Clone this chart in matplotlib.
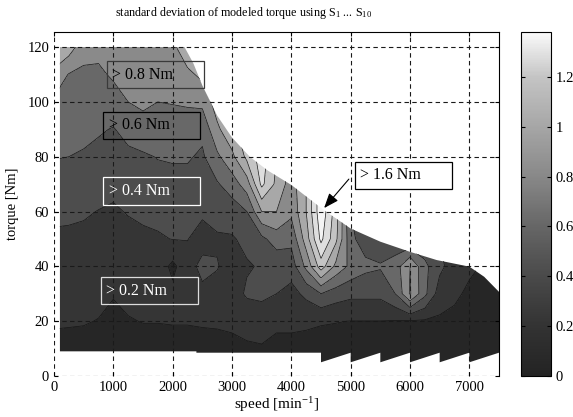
import numpy as np
import matplotlib
matplotlib.use("Agg")
import matplotlib.pyplot as plt
from matplotlib.colors import LinearSegmentedColormap, Normalize
from matplotlib.patches import Polygon, Rectangle
import matplotlib.cm as cm

plt.rcParams["font.family"] = ["Liberation Serif", "DejaVu Serif"]
plt.rcParams["mathtext.fontset"] = "custom"
plt.rcParams["mathtext.rm"] = "Liberation Serif"
plt.rcParams["mathtext.it"] = "Liberation Serif:italic"

# measurement grid (speed in min^-1, torque in Nm)
speed = list(range(0, 7501, 250))
torque = [5, 10, 20, 30, 40, 50, 60, 70, 80, 90, 100, 110, 120]

# standard deviation [Nm], one row per torque value
std_rows = [
    [.13, .13, .13, .12, .10, .11, .12, .12, .12, .12, .13, .13, .14, .16, .17, .14, .14, .13, .13, .12, .12, .12, .12, .11, .11, .11, .11, .10, .10, .10, .10],
    [.15, .15, .15, .14, .12, .13, .14, .14, .14, .14, .15, .15, .16, .18, .19, .16, .16, .15, .15, .14, .14, .14, .14, .13, .13, .13, .13, .12, .12, .12, .12],
    [.22, .215, .21, .195, .16, .19, .205, .205, .21, .21, .215, .22, .23, .25, .25, .23, .23, .225, .21, .205, .198, .198, .198, .19, .185, .175, .17, .172, .17, .15, .14],
    [.18, .27, .26, .24, .21, .24, .26, .26, .25, .27, .36, .34, .30, .43, .46, .40, .33, .45, .60, .50, .45, .45, .45, .60, 1.02, .65, .30, .22, .18, .15, .14],
    [.32, .32, .31, .29, .26, .30, .31, .32, .15, .33, .45, .41, .33, .38, .42, .45, .50, .85, 1.3, .95, .75, .65, .62, .70, 1.0, .65, .45, .30, .22, .19, .17],
    [.37, .37, .36, .35, .32, .35, .37, .38, .405, .405, .33, .38, .38, .45, .55, .70, .65, 1.1, 1.65, 1.25, .65, .50, .45, .45, .40, .45, .40, .35, .30, .25, .20],
    [.44, .43, .42, .395, .38, .41, .43, .45, .47, .47, .43, .46, .50, .60, 1.0, 1.0, .85, 1.2, 1.75, 1.3, .60, .45, .45, .50, .50, .50, .40, .35, .30, .25, .20],
    [.52, .52, .50, .47, .44, .48, .50, .52, .54, .54, .50, .58, .70, .90, 1.45, 1.15, .90, 1.2, 1.75, 1.3, .60, .45, .45, .50, .50, .50, .40, .35, .30, .25, .20],
    [.61, .60, .58, .55, .52, .56, .57, .61, .62, .62, .57, .76, .95, 1.25, 1.50, 1.2, .90, 1.2, 1.75, 1.3, .60, .45, .45, .50, .50, .50, .40, .35, .30, .25, .20],
    [.69, .66, .65, .62, .59, .66, .74, .70, .71, .72, .65, .96, 1.15, 1.3, 1.5, 1.2, .90, 1.2, 1.75, 1.3, .60, .45, .45, .50, .50, .50, .40, .35, .30, .25, .20],
    [.77, .72, .70, .69, .71, .80, .83, .80, .81, .82, .85, 1.1, 1.2, 1.3, 1.5, 1.2, .90, 1.2, 1.75, 1.3, .60, .45, .45, .50, .50, .50, .40, .35, .30, .25, .20],
    [.93, .79, .76, .76, .83, .86, .88, .86, .87, .95, 1.05, 1.2, 1.2, 1.3, 1.5, 1.2, .90, 1.2, 1.75, 1.3, .60, .45, .45, .50, .50, .50, .40, .35, .30, .25, .20],
    [1.25, 1.1, .88, .86, .94, .92, .93, .92, .95, 1.15, 1.2, 1.2, 1.2, 1.3, 1.5, 1.2, .90, 1.2, 1.75, 1.3, .60, .45, .45, .50, .50, .50, .40, .35, .30, .25, .20],
]

# operating range: full-load curve and lowest measured torque
limit_speed = [100, 2200, 2350, 2500, 2750, 3000, 3300, 3600, 4000, 4550, 5000, 5500, 6000, 6450, 7000, 7250, 7350, 7500]
limit_torque = [120, 120, 114, 106, 95, 87, 80, 75, 69.7, 60.5, 53.8, 49, 45.3, 42.3, 39.9, 36.2, 34, 30.7]
low_speed = [7500, 7000, 7000, 6500, 6500, 6000, 6000, 5500, 5500, 5000, 5000, 4500, 4500, 2400, 2400, 100]
low_torque = [8.5, 5, 8.5, 5, 8.5, 5, 8.5, 5, 8.5, 5, 8.5, 5, 8.5, 8.5, 9, 9]

levels = [0, 0.2, 0.4, 0.6, 0.8, 1.0, 1.2, 1.4, 1.6, 2.0]
band_colors = ["#262626", "#353535", "#4d4d4d", "#686868", "#8a8a8a",
               "#a8a8a8", "#c4c4c4", "#dedede", "#f4f4f4"]
cbar_pos = [0, 0.2, 0.4, 0.6, 0.8, 1.0, 1.2, 1.38]
cbar_gray = ["#232323", "#333333", "#4a4a4a", "#666666", "#888888", "#a6a6a6", "#c4c4c4", "#fafafa"]

fig = plt.figure(figsize=(5.73, 4.17), dpi=100)
ax = fig.add_axes([54 / 573, 41 / 417, 445 / 573, 344 / 417])

S, T = np.meshgrid(speed, torque)
Z = np.array(std_rows)

outline = list(zip(limit_speed, limit_torque)) + list(zip(low_speed, low_torque))
clip = Polygon(outline, closed=True, transform=ax.transData, fc="none", ec="none")
ax.add_patch(clip)

cf = ax.contourf(S, T, Z, levels=levels, colors=band_colors)
cl = ax.contour(S, T, Z, levels=levels[1:-1], colors="#151515", linewidths=0.5)
cf.set_clip_path(clip)
cl.set_clip_path(clip)

ax.set_xlim(0, 7500)
ax.set_ylim(0, 125.5)
ax.set_xticks(range(0, 7001, 1000))
ax.set_yticks(range(0, 121, 20))
ax.grid(True, color="#1a1a1a", linestyle=(0, (4, 3)), linewidth=0.8)
ax.set_axisbelow(False)
ax.tick_params(direction="in", length=3, labelsize=10.5, top=True, right=True)
ax.spines["left"].set_visible(False)
ax.spines["bottom"].set_visible(False)
for side in ["top", "right"]:
    ax.spines[side].set_linewidth(0.8)

ax.set_xlabel("speed [min$^{-1}$]", fontsize=11, labelpad=1)
ax.set_ylabel("torque [Nm]", fontsize=10.5, labelpad=6)
fig.text(244 / 573, 1 - 13 / 417, "standard deviation of modeled torque using S$_1$ ... S$_{10}$",
         ha="center", va="center", fontsize=8.7)

# region labels
boxes = [
    ("> 0.8 Nm", 890, 2522, 104.9, 114.9, "#3a3a3a", "black"),
    ("> 0.6 Nm", 833, 2454, 86.4, 96.4, "black", "black"),
    ("> 0.4 Nm", 833, 2461, 62.4, 72.7, "white", "white"),
    ("> 0.2 Nm", 789, 2421, 26.1, 36.2, "#dddddd", "white"),
    ("> 1.6 Nm", 5068, 6701, 68.1, 78.2, "black", "black"),
]
for label, x0, x1, y0, y1, ec, tc in boxes:
    fc = "white" if label == "> 1.6 Nm" else "none"
    ax.add_patch(Rectangle((x0, y0), x1 - x0, y1 - y0, fc=fc, ec=ec, lw=0.9, zorder=4))
    ax.text(x0 + 90, (y0 + y1) / 2, label, color=tc, fontsize=11.5, va="center", ha="left", zorder=5)

ax.annotate("", xy=(4522, 60.5), xytext=(5000, 72.6),
            arrowprops=dict(arrowstyle="-|>,head_length=0.9,head_width=0.35", color="black", lw=0.8),
            zorder=5)

# colorbar
cax = fig.add_axes([521 / 573, 41 / 417, 30 / 573, 344 / 417])
cmap = LinearSegmentedColormap.from_list("gr", [(p / 1.38, c) for p, c in zip(cbar_pos, cbar_gray)])
sm = cm.ScalarMappable(norm=Normalize(0, 1.38), cmap=cmap)
cb = fig.colorbar(sm, cax=cax)
cb.set_ticks([0, 0.2, 0.4, 0.6, 0.8, 1.0, 1.2])
cb.set_ticklabels(["0", "0.2", "0.4", "0.6", "0.8", "1", "1.2"])
cax.tick_params(direction="in", length=3, labelsize=10.5, left=True, right=True)
cb.outline.set_linewidth(0.8)

fig.savefig("out.png", dpi=100)
